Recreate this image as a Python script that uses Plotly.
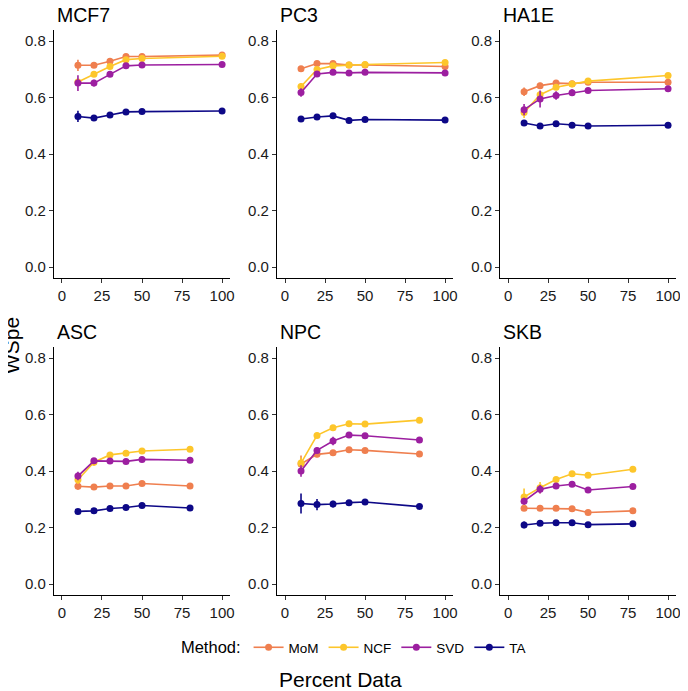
import plotly.graph_objects as go

methods = ["MoM", "NCF", "SVD", "TA"]
colors = {"MoM": "#EF7F4F", "NCF": "#FDC62B", "SVD": "#9C1FA0", "TA": "#0D0887"}
panels = ["MCF7", "PC3", "HA1E", "ASC", "NPC", "SKB"]

x_top = [10, 20, 30, 40, 50, 100]
x_asc = [10, 20, 30, 40, 50, 80]
x_npc = [10, 20, 30, 40, 50, 84]
x_skb = [10, 20, 30, 40, 50, 78]

mcf7_mom = [0.714, 0.714, 0.728, 0.745, 0.745, 0.750]
mcf7_ncf = [0.655, 0.682, 0.710, 0.734, 0.738, 0.746]
mcf7_svd = [0.651, 0.651, 0.682, 0.712, 0.715, 0.717]
mcf7_ta = [0.533, 0.527, 0.538, 0.549, 0.550, 0.552]

pc3_mom = [0.702, 0.720, 0.720, 0.715, 0.715, 0.710]
pc3_ncf = [0.639, 0.699, 0.712, 0.715, 0.717, 0.724]
pc3_svd = [0.618, 0.683, 0.689, 0.687, 0.689, 0.687]
pc3_ta = [0.524, 0.531, 0.535, 0.519, 0.522, 0.520]

ha1e_mom = [0.620, 0.642, 0.651, 0.649, 0.654, 0.654]
ha1e_ncf = [0.547, 0.610, 0.636, 0.648, 0.658, 0.678]
ha1e_svd = [0.557, 0.595, 0.607, 0.617, 0.625, 0.631]
ha1e_ta = [0.510, 0.499, 0.507, 0.502, 0.499, 0.502]

asc_mom = [0.346, 0.343, 0.347, 0.347, 0.356, 0.347]
asc_ncf = [0.369, 0.431, 0.457, 0.463, 0.471, 0.477]
asc_svd = [0.382, 0.436, 0.435, 0.434, 0.441, 0.438]
asc_ta = [0.257, 0.259, 0.267, 0.271, 0.278, 0.269]

npc_mom = [0.425, 0.459, 0.465, 0.475, 0.473, 0.460]
npc_ncf = [0.428, 0.526, 0.553, 0.567, 0.566, 0.580]
npc_svd = [0.400, 0.473, 0.506, 0.527, 0.525, 0.510]
npc_ta = [0.285, 0.281, 0.283, 0.288, 0.290, 0.274]

skb_mom = [0.268, 0.268, 0.268, 0.266, 0.253, 0.259]
skb_ncf = [0.308, 0.341, 0.370, 0.390, 0.385, 0.406]
skb_svd = [0.293, 0.335, 0.347, 0.353, 0.333, 0.345]
skb_ta = [0.209, 0.215, 0.217, 0.217, 0.210, 0.213]

# standard errors (estimated from the error bars)
mcf7_err = {"MoM": [0.020, 0.010, 0.008, 0.006, 0.005, 0.004], "NCF": [0.010, 0.008, 0.006, 0.005, 0.004, 0.004],
            "SVD": [0.028, 0.012, 0.008, 0.006, 0.005, 0.004], "TA": [0.020, 0.008, 0.006, 0.005, 0.004, 0.004]}
pc3_err = {"MoM": [0.008, 0.006, 0.005, 0.004, 0.004, 0.003], "NCF": [0.012, 0.008, 0.006, 0.005, 0.004, 0.003],
           "SVD": [0.015, 0.008, 0.006, 0.005, 0.004, 0.003], "TA": [0.008, 0.006, 0.005, 0.004, 0.004, 0.003]}
ha1e_err = {"MoM": [0.015, 0.010, 0.008, 0.006, 0.005, 0.004], "NCF": [0.020, 0.012, 0.008, 0.006, 0.005, 0.004],
            "SVD": [0.020, 0.030, 0.015, 0.012, 0.006, 0.004], "TA": [0.010, 0.010, 0.006, 0.005, 0.004, 0.004]}
asc_err = {"MoM": [0.012, 0.006, 0.005, 0.004, 0.004, 0.003], "NCF": [0.015, 0.012, 0.006, 0.005, 0.004, 0.003],
           "SVD": [0.015, 0.010, 0.006, 0.005, 0.004, 0.003], "TA": [0.006, 0.005, 0.004, 0.004, 0.004, 0.003]}
npc_err = {"MoM": [0.030, 0.010, 0.006, 0.005, 0.004, 0.004], "NCF": [0.020, 0.010, 0.008, 0.006, 0.005, 0.004],
           "SVD": [0.020, 0.010, 0.015, 0.008, 0.006, 0.004], "TA": [0.035, 0.020, 0.012, 0.008, 0.006, 0.004]}
skb_err = {"MoM": [0.008, 0.006, 0.005, 0.004, 0.004, 0.003], "NCF": [0.030, 0.020, 0.008, 0.006, 0.005, 0.004],
           "SVD": [0.012, 0.015, 0.008, 0.006, 0.005, 0.004], "TA": [0.012, 0.008, 0.006, 0.005, 0.004, 0.003]}

panel_x = {"MCF7": x_top, "PC3": x_top, "HA1E": x_top, "ASC": x_asc, "NPC": x_npc, "SKB": x_skb}
panel_y = {
    "MCF7": {"MoM": mcf7_mom, "NCF": mcf7_ncf, "SVD": mcf7_svd, "TA": mcf7_ta},
    "PC3": {"MoM": pc3_mom, "NCF": pc3_ncf, "SVD": pc3_svd, "TA": pc3_ta},
    "HA1E": {"MoM": ha1e_mom, "NCF": ha1e_ncf, "SVD": ha1e_svd, "TA": ha1e_ta},
    "ASC": {"MoM": asc_mom, "NCF": asc_ncf, "SVD": asc_svd, "TA": asc_ta},
    "NPC": {"MoM": npc_mom, "NCF": npc_ncf, "SVD": npc_svd, "TA": npc_ta},
    "SKB": {"MoM": skb_mom, "NCF": skb_ncf, "SVD": skb_svd, "TA": skb_ta},
}
panel_err = {"MCF7": mcf7_err, "PC3": pc3_err, "HA1E": ha1e_err, "ASC": asc_err, "NPC": npc_err, "SKB": skb_err}

# The page body has an 8px margin, so the figure is made 8px smaller and all
# window-pixel positions are shifted by 8px.
OFF = 8
W, H = 688 - OFF, 691 - OFF


def PX(px):
    return (px - OFF) / W


def PY(py):
    return 1 - (py - OFF) / H


col_px = [(54.2, 231.4), (278.6, 455.7), (503.0, 680.0)]
row_px = [(29.7, 278.3), (346.7, 595.3)]

FONT = "Liberation Sans, Arial, sans-serif"
TXT = "#1a1a1a"
fig = go.Figure()
layout = dict(
    width=W, height=H, margin=dict(l=0, r=0, t=0, b=0),
    plot_bgcolor="white", paper_bgcolor="white",
    font=dict(family=FONT, color="black"),
    showlegend=True,
)
annotations = []
for i, p in enumerate(panels):
    r, c = divmod(i, 3)
    idx = "" if i == 0 else str(i + 1)
    xa, ya = "x" + idx, "y" + idx
    x0, x1 = col_px[c]
    y0, y1 = row_px[r]
    axis_common = dict(showline=True, linecolor="black", linewidth=1.1, ticks="outside",
                       ticklen=4, tickcolor="#333", tickwidth=1.1, showgrid=False, zeroline=False,
                       tickfont=dict(family=FONT, size=15, color=TXT))
    layout["xaxis" + idx] = dict(domain=[PX(x0), PX(x1)], range=[-5, 105], anchor=ya,
                                 tickvals=[0, 25, 50, 75, 100], **axis_common)
    layout["yaxis" + idx] = dict(domain=[PY(y1), PY(y0)], range=[-0.04, 0.84], anchor=xa,
                                 tickvals=[0, 0.2, 0.4, 0.6, 0.8], tickformat=".1f", **axis_common)
    for m in methods:
        fig.add_trace(go.Scatter(
            x=panel_x[p], y=panel_y[p][m], mode="lines+markers", name=m,
            legendgroup=m, showlegend=(i == 0), xaxis=xa, yaxis=ya,
            line=dict(color=colors[m], width=1.6),
            marker=dict(color=colors[m], size=7),
            error_y=dict(type="data", array=panel_err[p][m], color=colors[m], thickness=1.6, width=0),
        ))
    annotations.append(dict(text=p, x=PX(x0 + 1), y=PY(y0 - 15), xref="paper", yref="paper",
                            xanchor="left", yanchor="middle", showarrow=False,
                            font=dict(family=FONT, size=19.5, color="black")))

annotations.append(dict(text="WSpe", x=PX(12), y=PY(345), xref="paper", yref="paper",
                        textangle=-90, showarrow=False, xanchor="center", yanchor="middle",
                        font=dict(family=FONT, size=21, color="black")))
annotations.append(dict(text="Percent Data", x=PX(342), y=PY(679), xref="paper", yref="paper",
                        showarrow=False, xanchor="center", yanchor="middle",
                        font=dict(family=FONT, size=21, color="black")))
layout["annotations"] = annotations
layout["legend"] = dict(orientation="h", x=PX(357), xanchor="center", y=PY(648), yanchor="middle",
                        title=dict(text="Method:", font=dict(family=FONT, size=16.5, color="black")),
                        font=dict(family=FONT, size=13.5, color="black"), itemwidth=30,
                        bgcolor="rgba(0,0,0,0)")
fig.update_layout(**layout)
fig.write_html("out.html")
